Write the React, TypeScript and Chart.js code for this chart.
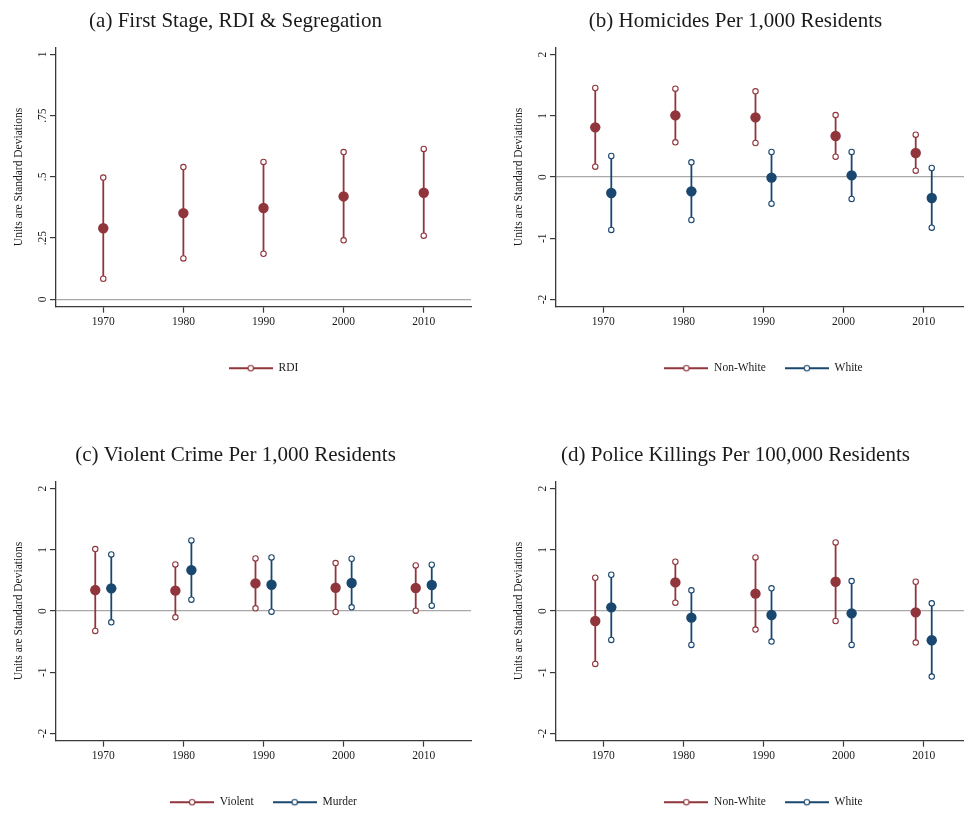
import { useEffect, useRef } from 'react';
import { Chart, registerables } from 'chart.js';

Chart.register(...registerables);

// ---------- data ----------
const years = [1970, 1980, 1990, 2000, 2010];
const xTickLabels = ['1970', '1980', '1990', '2000', '2010'];
const dodge = 1;

const rdiTicks = [0, 0.25, 0.5, 0.75, 1];
const rdiTickLabels = ['0', '.25', '.5', '.75', '1'];
const sdTicks = [-2, -1, 0, 1, 2];
const sdTickLabels = ['-2', '-1', '0', '1', '2'];

// (a) First stage
const rdiEst = [0.29, 0.352, 0.373, 0.42, 0.435];
const rdiLo = [0.084, 0.167, 0.186, 0.241, 0.26];
const rdiHi = [0.497, 0.54, 0.561, 0.601, 0.614];

// (b) Homicides
const homNonWhiteEst = [0.811, 1.007, 0.974, 0.669, 0.392];
const homNonWhiteLo = [0.169, 0.566, 0.555, 0.332, 0.103];
const homNonWhiteHi = [1.453, 1.442, 1.399, 1.012, 0.691];
const homWhiteEst = [-0.261, -0.234, -0.011, 0.027, -0.343];
const homWhiteLo = [-0.865, -0.702, -0.435, -0.359, -0.827];
const homWhiteHi = [0.343, 0.239, 0.408, 0.408, 0.147];

// (c) Violent crime
const violentEst = [0.342, 0.332, 0.451, 0.38, 0.375];
const violentLo = [-0.326, -0.103, 0.043, -0.016, 0.005];
const violentHi = [1.011, 0.761, 0.859, 0.783, 0.745];
const murderEst = [0.37, 0.668, 0.429, 0.457, 0.424];
const murderLo = [-0.185, 0.185, -0.011, 0.06, 0.087];
const murderHi = [0.924, 1.152, 0.875, 0.853, 0.755];

// (d) Police killings
const polNonWhiteEst = [-0.163, 0.467, 0.283, 0.478, -0.022];
const polNonWhiteLo = [-0.864, 0.136, -0.304, -0.163, -0.516];
const polNonWhiteHi = [0.543, 0.804, 0.875, 1.12, 0.478];
const polWhiteEst = [0.06, -0.109, -0.065, -0.038, -0.478];
const polWhiteLo = [-0.473, -0.554, -0.5, -0.554, -1.071];
const polWhiteHi = [0.592, 0.337, 0.37, 0.489, 0.125];

// ---------- styles ----------
const RED = 'rgb(144,53,59)';
const BLUE = 'rgb(26,71,111)';
const TEXT = '#1a1a1a';
const AXIS = '#3a3a3a';
const ZERO = '#a8a8a8';
const FONT = "'Liberation Serif', 'Times New Roman', serif";
const SMALL = 11.5;
const CI_WIDTH = 1.8;

type Series = { label: string; color: string; est: number[]; lo: number[]; hi: number[]; shift: number };
type Panel = {
  title: string;
  series: Series[];
  yMin: number;
  yMax: number;
  yTicks: number[];
  yLabels: string[];
  left: number;
  top: number;
};

const panels: Panel[] = [
  {
    title: '(a) First Stage, RDI & Segregation',
    series: [{ label: 'RDI', color: RED, est: rdiEst, lo: rdiLo, hi: rdiHi, shift: 0 }],
    yMin: -0.03, yMax: 1.0286, yTicks: rdiTicks, yLabels: rdiTickLabels, left: 0, top: 0,
  },
  {
    title: '(b) Homicides Per 1,000 Residents',
    series: [
      { label: 'Non-White', color: RED, est: homNonWhiteEst, lo: homNonWhiteLo, hi: homNonWhiteHi, shift: -dodge },
      { label: 'White', color: BLUE, est: homWhiteEst, lo: homWhiteLo, hi: homWhiteHi, shift: dodge },
    ],
    yMin: -2.118, yMax: 2.118, yTicks: sdTicks, yLabels: sdTickLabels, left: 500, top: 0,
  },
  {
    title: '(c) Violent Crime Per 1,000 Residents',
    series: [
      { label: 'Violent', color: RED, est: violentEst, lo: violentLo, hi: violentHi, shift: -dodge },
      { label: 'Murder', color: BLUE, est: murderEst, lo: murderLo, hi: murderHi, shift: dodge },
    ],
    yMin: -2.118, yMax: 2.118, yTicks: sdTicks, yLabels: sdTickLabels, left: 0, top: 434,
  },
  {
    title: '(d) Police Killings Per 100,000 Residents',
    series: [
      { label: 'Non-White', color: RED, est: polNonWhiteEst, lo: polNonWhiteLo, hi: polNonWhiteHi, shift: -dodge },
      { label: 'White', color: BLUE, est: polWhiteEst, lo: polWhiteLo, hi: polWhiteHi, shift: dodge },
    ],
    yMin: -2.118, yMax: 2.118, yTicks: sdTicks, yLabels: sdTickLabels, left: 500, top: 434,
  },
];

const CANVAS_W = 482;
const CANVAS_H = 384;

function ciPoints(xs: number[], lo: number[], hi: number[], shift: number) {
  const out: { x: number; y: number | null }[] = [];
  xs.forEach((x, i) => {
    out.push({ x: x + shift, y: lo[i] }, { x: x + shift, y: hi[i] }, { x: x + shift, y: null });
  });
  return out;
}

function estPoints(xs: number[], est: number[], shift: number) {
  return xs.map((x, i) => ({ x: x + shift, y: est[i] }));
}

function legendSwatch(color: string) {
  const c = document.createElement('canvas');
  c.width = 44;
  c.height = 10;
  const g = c.getContext('2d')!;
  g.strokeStyle = color;
  g.lineWidth = CI_WIDTH;
  g.beginPath();
  g.moveTo(0, 5);
  g.lineTo(44, 5);
  g.stroke();
  g.beginPath();
  g.arc(22, 5, 2.7, 0, Math.PI * 2);
  g.fillStyle = '#fff';
  g.fill();
  g.lineWidth = 1.1;
  g.stroke();
  return c;
}

const rotatedYTicks = {
  id: 'rotatedYTicks',
  afterDraw(chart: any, _args: any, opts: any) {
    const scale = chart.scales.y;
    const ctx = chart.ctx as CanvasRenderingContext2D;
    ctx.save();
    ctx.fillStyle = TEXT;
    ctx.font = `${SMALL}px ${FONT}`;
    ctx.textAlign = 'center';
    ctx.textBaseline = 'middle';
    scale.ticks.forEach((t: any, i: number) => {
      const y = scale.getPixelForValue(t.value);
      ctx.save();
      ctx.translate(scale.right - 13, y);
      ctx.rotate(-Math.PI / 2);
      ctx.fillText(opts.labels[i], 0, 0);
      ctx.restore();
    });
    ctx.restore();
  },
};

function PanelChart({ panel }: { panel: Panel }) {
  const ref = useRef<HTMLCanvasElement | null>(null);

  useEffect(() => {
    if (!ref.current) return;
    const datasets: any[] = [];
    panel.series.forEach((s) => {
      datasets.push({
        label: s.label + ' est',
        data: estPoints(years, s.est, s.shift),
        showLine: false,
        pointRadius: 5.2,
        pointBackgroundColor: s.color,
        pointBorderColor: s.color,
        pointBorderWidth: 0,
        order: 1,
      });
      datasets.push({
        label: s.label,
        data: ciPoints(years, s.lo, s.hi, s.shift),
        showLine: true,
        spanGaps: false,
        borderColor: s.color,
        borderWidth: CI_WIDTH,
        pointRadius: 2.7,
        pointBackgroundColor: '#ffffff',
        pointBorderColor: s.color,
        pointBorderWidth: 1.1,
        order: 2,
      });
    });

    const chart = new Chart(ref.current, {
      type: 'scatter',
      data: { datasets },
      plugins: [rotatedYTicks as any],
      options: {
        responsive: false,
        animation: false,
        events: [],
        layout: { padding: { top: 0, right: 11, bottom: 0, left: 0 } },
        scales: {
          x: {
            type: 'linear',
            min: 1964.1,
            max: 2015.9,
            afterBuildTicks: (s: any) => {
              s.ticks = years.map((v) => ({ value: v }));
            },
            afterFit: (s: any) => {
              s.height = 36.8;
            },
            ticks: {
              autoSkip: false,
              maxRotation: 0,
              minRotation: 0,
              padding: 2,
              color: TEXT,
              font: { family: FONT, size: SMALL },
              callback: (_v: any, i: number) => xTickLabels[i],
            },
            grid: {
              drawOnChartArea: false,
              drawTicks: true,
              tickLength: 6,
              tickColor: AXIS,
              tickWidth: 1.2,
              color: AXIS,
            },
            border: { display: true, color: AXIS, width: 1.3 },
          },
          y: {
            type: 'linear',
            min: panel.yMin,
            max: panel.yMax,
            afterBuildTicks: (s: any) => {
              s.ticks = panel.yTicks.map((v) => ({ value: v }));
            },
            afterFit: (s: any) => {
              s.width = 56;
            },
            ticks: { display: false },
            grid: {
              drawOnChartArea: true,
              drawTicks: true,
              tickLength: 6,
              tickColor: AXIS,
              tickWidth: 1.2,
              lineWidth: 1.2,
              color: (ctx: any) => (ctx.tick && ctx.tick.value === 0 ? ZERO : 'rgba(0,0,0,0)'),
            },
            border: { display: true, color: AXIS, width: 1.3 },
            title: {
              display: true,
              text: 'Units are Standard Deviations',
              color: TEXT,
              font: { family: FONT, size: SMALL },
              padding: { top: 11.6, bottom: 0 },
            },
          },
        },
        plugins: {
          tooltip: { enabled: false },
          title: {
            display: true,
            text: panel.title,
            color: TEXT,
            font: { family: FONT, size: 21, weight: 'normal' },
            padding: { top: 8.5, bottom: 13.6 },
          },
          legend: {
            display: true,
            position: 'bottom',
            fullSize: false,
            labels: {
              usePointStyle: true,
              pointStyleWidth: 44,
              padding: 19,
              color: TEXT,
              font: { family: FONT, size: SMALL },
              generateLabels: () =>
                panel.series.map((s, i) => ({
                  text: s.label,
                  pointStyle: legendSwatch(s.color),
                  fillStyle: s.color,
                  strokeStyle: s.color,
                  fontColor: TEXT,
                  lineWidth: 0,
                  hidden: false,
                  datasetIndex: i * 2 + 1,
                })),
            },
          },
          rotatedYTicks: { labels: panel.yLabels },
        } as any,
      },
    });
    return () => chart.destroy();
  }, [panel]);

  return (
    <canvas
      ref={ref}
      width={CANVAS_W}
      height={CANVAS_H}
      style={{ position: 'absolute', left: panel.left, top: panel.top, width: CANVAS_W, height: CANVAS_H }}
    />
  );
}

export default function App() {
  return (
    <div
      style={{
        position: 'absolute',
        left: 0,
        top: 0,
        width: 964,
        height: 814,
        overflow: 'hidden',
        background: '#ffffff',
      }}
    >
      {panels.map((p, i) => (
        <PanelChart key={i} panel={p} />
      ))}
    </div>
  );
}
